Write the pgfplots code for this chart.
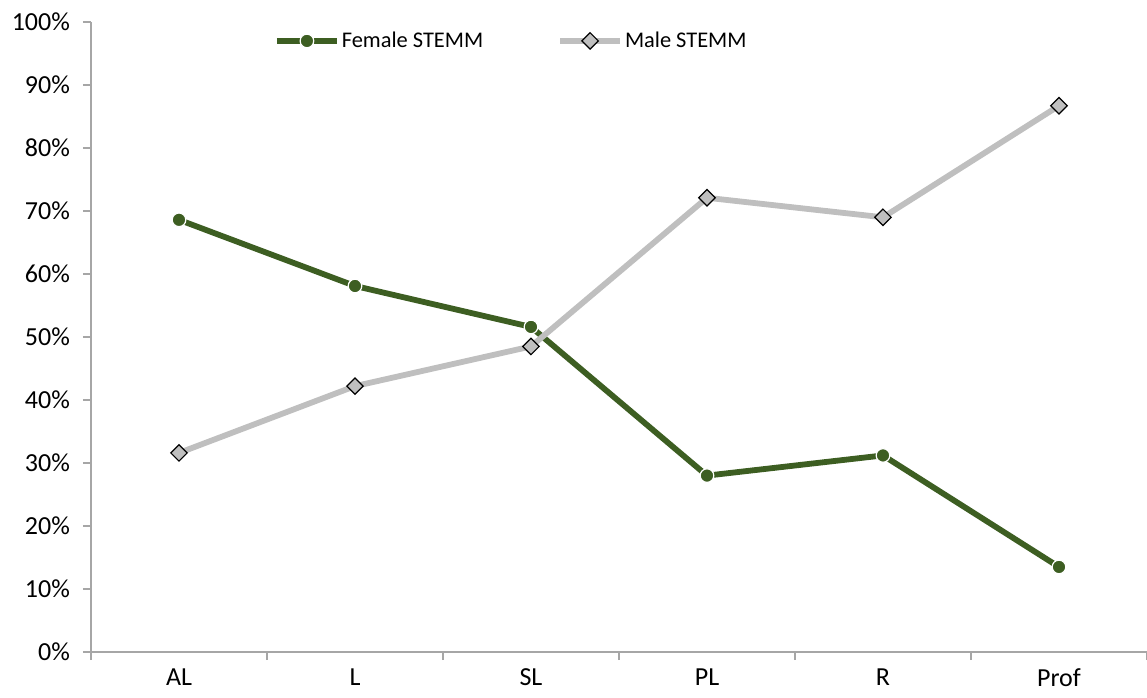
\documentclass[border=0pt]{standalone}
\usepackage{fontspec}
\setmainfont{Carlito}
\usepackage{pgfplots}
\pgfplotsset{compat=1.18}
\definecolor{fem}{HTML}{3D5E22}
\definecolor{male}{HTML}{BFBFBF}
\definecolor{axgray}{HTML}{A6A6A6}
\begin{document}
\begin{tikzpicture}
\useasboundingbox (-45.5pt,-22.5pt) rectangle (528pt,326pt);
\begin{axis}[
  scale only axis, width=528pt, height=315pt,
  xmin=-0.5, xmax=5.5, ymin=0, ymax=100,
  axis x line*=bottom, axis y line*=left,
  axis line style={axgray, line width=0.8pt},
  xtick={0,1,2,3,4,5},
  xticklabels={AL,L,SL,PL,R,Prof},
  major x tick style={draw=none},
  minor xtick={-0.5,0.5,1.5,2.5,3.5,4.5,5.5},
  minor x tick style={axgray, line width=0.8pt},
  minor tick length=4pt,
  ytick={0,10,...,100},
  yticklabel={\pgfmathprintnumber{\tick}\%},
  y tick style={axgray, line width=0.8pt},
  major tick length=4pt,
  tick align=outside,
  /pgf/number format/assume math mode=true,
  tick label style={font=\fontsize{13}{15}\selectfont, black},
  xticklabel style={yshift=-3pt, inner ysep=1pt},
  yticklabel style={xshift=-3pt},
  clip=false,
  legend columns=2,
  legend style={draw=none, fill=none, at={(0.398,0.998)}, anchor=north,
    font=\fontsize{11.2}{13}\selectfont,
    nodes={inner xsep=1pt},
    /tikz/every even column/.append style={column sep=36pt}},
  legend image code/.code={
    \draw[mark repeat=2,mark phase=2] plot coordinates {(0pt,0pt) (15pt,0pt) (30pt,0pt)};},
]
\addplot[fem, line width=2.9pt, mark=*, mark size=3.4pt,
  mark options={fill=fem, draw=white, line width=0.6pt}]
  coordinates {(0,68.6) (1,58.1) (2,51.6) (3,28.0) (4,31.2) (5,13.5)};
\addlegendentry{Female STEMM}
\addplot[male, line width=2.9pt, mark=square*, mark size=2.9pt,
  mark options={fill=male, draw=black, line width=0.6pt, rotate=45}]
  coordinates {(0,31.6) (1,42.2) (2,48.5) (3,72.1) (4,69.0) (5,86.7)};
\addlegendentry{Male STEMM}
\end{axis}
\end{tikzpicture}
\end{document}
